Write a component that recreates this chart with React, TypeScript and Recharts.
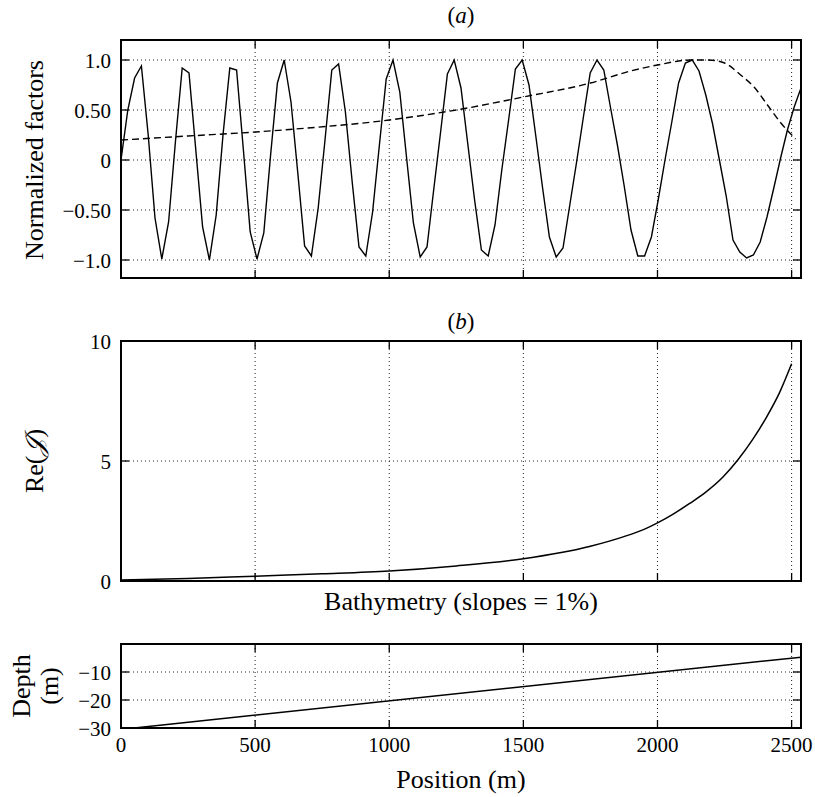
import { CartesianGrid, Line, LineChart, ReferenceArea, XAxis, YAxis } from "recharts"

// panel (a): solid oscillation sampled on a regular grid, dashed envelope
const gridStep = 25.35
const factorSolid = [
  0.0, 0.5, 0.82, 0.94, 0.25, -0.58, -0.99, -0.62, 0.18, 0.92,
  0.87, 0.1, -0.67, -1.0, -0.55, 0.25, 0.92, 0.9, 0.1, -0.72,
  -0.99, -0.73, 0.05, 0.77, 1.0, 0.58, -0.13, -0.86, -0.96, -0.48,
  0.2, 0.9, 0.96, 0.48, -0.22, -0.87, -0.96, -0.52, 0.15, 0.81,
  1.0, 0.68, 0.02, -0.63, -0.97, -0.87, -0.29, 0.28, 0.86, 1.0,
  0.72, 0.16, -0.4, -0.9, -0.96, -0.65, -0.1, 0.4, 0.91, 1.0,
  0.75, 0.24, -0.28, -0.77, -0.97, -0.88, -0.45, -0.02, 0.43, 0.87,
  1.0, 0.9, 0.52, 0.15, -0.26, -0.7, -0.96, -0.96, -0.77, -0.4,
  0.0, 0.38, 0.77, 0.97, 1.0, 0.89, 0.65, 0.36, 0.0, -0.36,
  -0.8, -0.92, -0.98, -0.95, -0.82, -0.57, -0.28, 0.02, 0.3, 0.53,
  0.72,
]
const positionSolid = factorSolid.map((_, i) => i * gridStep)

const positionDashed = [0, 250, 500, 650, 1000, 1250, 1500, 1750, 1900, 2000, 2125, 2190, 2250, 2310, 2360, 2410, 2460, 2515]
const factorDashed = [0.2, 0.24, 0.28, 0.31, 0.4, 0.5, 0.63, 0.77, 0.89, 0.95, 1.0, 1.0, 0.97, 0.85, 0.73, 0.55, 0.37, 0.21]

// panel (b)
const positionRe = [0, 250, 500, 750, 1000, 1250, 1500, 1750, 1875, 1950, 2000, 2060, 2120, 2180, 2245, 2300, 2355, 2405, 2455, 2500]
const reJ = [0.04, 0.1, 0.2, 0.3, 0.42, 0.63, 0.93, 1.45, 1.85, 2.15, 2.42, 2.8, 3.23, 3.7, 4.34, 5.05, 5.9, 6.8, 7.85, 9.05]

// bathymetry
const positionDepth = [0, 2535]
const depth = [-30.5, -4.7]

const xTicks = [0, 500, 1000, 1500, 2000, 2500]
const yTicksA = [-1, -0.5, 0, 0.5, 1]
const yLabelsA = ["−1.0", "−0.50", "0", "0.50", "1.0"]
const yTicksB = [0, 5, 10]
const yLabelsB = ["0", "5", "10"]
const yTicksC = [-30, -20, -10]
const yLabelsC = ["−30", "−20", "−10"]

const FONT = "Liberation Serif, serif"
const PLOT_LEFT = 121
const PLOT_RIGHT = 801
const X_MAX = 2535
const TICK_LEN = 8

const solidData = positionSolid.map((x, i) => ({ x, y: factorSolid[i] }))
const dashedData = positionDashed.map((x, i) => ({ x, y: factorDashed[i] }))
const reData = positionRe.map((x, i) => ({ x, y: reJ[i] }))
const depthData = positionDepth.map((x, i) => ({ x, y: depth[i] }))

function xTick(top: number, bottom: number, showLabel: boolean) {
  return (props: any) => {
    const { x, y, payload } = props
    return (
      <g>
        <line x1={x} x2={x} y1={bottom} y2={bottom - TICK_LEN} stroke="#000" strokeWidth={1.3} />
        <line x1={x} x2={x} y1={top} y2={top + TICK_LEN} stroke="#000" strokeWidth={1.3} />
        {showLabel && (
          <text x={x} y={y} dy="0.71em" textAnchor="middle" style={{ fontFamily: FONT, fontSize: 21 }} fill="#000">
            {payload.value}
          </text>
        )}
      </g>
    )
  }
}

function yTick(ticks: number[], labels: string[]) {
  return (props: any) => {
    const { x, y, payload } = props
    const label = labels[ticks.indexOf(payload.value)]
    return (
      <g>
        <line x1={PLOT_LEFT} x2={PLOT_LEFT + TICK_LEN} y1={y} y2={y} stroke="#000" strokeWidth={1.3} />
        <line x1={PLOT_RIGHT} x2={PLOT_RIGHT - TICK_LEN} y1={y} y2={y} stroke="#000" strokeWidth={1.3} />
        <text x={x} y={y} dy="0.36em" textAnchor="end" style={{ fontFamily: FONT, fontSize: 21 }} fill="#000">
          {label}
        </text>
      </g>
    )
  }
}

interface PanelProps {
  height: number;
  plotTop: number;
  plotBottom: number;
  yDomain: [number, number];
  yTicks: number[];
  yLabels: string[];
  showXLabels: boolean;
  children: React.ReactNode;
}

function Panel({ height, plotTop, plotBottom, yDomain, yTicks, yLabels, showXLabels, children }: PanelProps) {
  const xAxisHeight = 10
  return (
    <LineChart
      width={815}
      height={height}
      margin={{ top: plotTop, right: 815 - PLOT_RIGHT, bottom: height - plotBottom - xAxisHeight, left: PLOT_LEFT - 60 }}
    >
      <CartesianGrid stroke="#222" strokeWidth={1} strokeDasharray="1 3" />
      <XAxis
        type="number"
        dataKey="x"
        domain={[0, X_MAX]}
        ticks={xTicks}
        interval={0}
        height={xAxisHeight}
        axisLine={false}
        tickLine={false}
        tickSize={0}
        tickMargin={9}
        tick={xTick(plotTop, plotBottom, showXLabels)}
        allowDataOverflow
      />
      <YAxis
        type="number"
        dataKey="y"
        domain={yDomain}
        ticks={yTicks}
        interval={0}
        width={60}
        axisLine={false}
        tickLine={false}
        tickSize={0}
        tickMargin={10}
        tick={yTick(yTicks, yLabels)}
        allowDataOverflow
      />
      {children}
      <ReferenceArea x1={0} x2={X_MAX} y1={yDomain[0]} y2={yDomain[1]} fill="none" stroke="#000" strokeWidth={2} />
    </LineChart>
  )
}

const labelStyle = { fontFamily: FONT, fontSize: 26 }

export default function App() {
  return (
    <div style={{ position: "absolute", left: 0, top: 0, width: 815, height: 797, background: "#fff" }}>
      <div style={{ position: "absolute", left: 0, top: 0 }}>
        <Panel height={300} plotTop={40} plotBottom={278} yDomain={[-1.18, 1.2]} yTicks={yTicksA} yLabels={yLabelsA} showXLabels={false}>
          <Line data={solidData} dataKey="y" type="linear" stroke="#000" strokeWidth={1.4} dot={false} isAnimationActive={false} />
          <Line data={dashedData} dataKey="y" type="monotone" stroke="#000" strokeWidth={1.4} strokeDasharray="7 4" dot={false} isAnimationActive={false} />
        </Panel>
      </div>
      <div style={{ position: "absolute", left: 0, top: 300 }}>
        <Panel height={300} plotTop={41} plotBottom={281} yDomain={[0, 10]} yTicks={yTicksB} yLabels={yLabelsB} showXLabels={false}>
          <Line data={reData} dataKey="y" type="monotone" stroke="#000" strokeWidth={1.5} dot={false} isAnimationActive={false} />
        </Panel>
      </div>
      <div style={{ position: "absolute", left: 0, top: 600 }}>
        <Panel height={197} plotTop={44} plotBottom={128} yDomain={[-30, 0]} yTicks={yTicksC} yLabels={yLabelsC} showXLabels={true}>
          <Line data={depthData} dataKey="y" type="linear" stroke="#000" strokeWidth={1.5} dot={false} isAnimationActive={false} />
        </Panel>
      </div>
      <svg width={815} height={797} style={{ position: "absolute", left: 0, top: 0, pointerEvents: "none" }} fill="#000">
        <text x={461} y={23} textAnchor="middle" style={{ fontFamily: FONT, fontSize: 23 }}>
          (<tspan fontStyle="italic">a</tspan>)
        </text>
        <text x={461} y={329} textAnchor="middle" style={{ fontFamily: FONT, fontSize: 23 }}>
          (<tspan fontStyle="italic">b</tspan>)
        </text>
        <text x={461} y={610} textAnchor="middle" style={labelStyle}>Bathymetry (slopes = 1%)</text>
        <text x={461} y={788} textAnchor="middle" style={labelStyle}>Position (m)</text>
        <text x={43} y={160} textAnchor="middle" style={labelStyle} transform="rotate(-90 43 160)">Normalized factors</text>
        <text x={43} y={461} textAnchor="middle" style={labelStyle} transform="rotate(-90 43 461)">
          Re(<tspan fontStyle="italic">𝒥</tspan>)
        </text>
        <text x={30} y={686} textAnchor="middle" style={labelStyle} transform="rotate(-90 30 686)">Depth</text>
        <text x={58} y={686} textAnchor="middle" style={labelStyle} transform="rotate(-90 58 686)">(m)</text>
      </svg>
    </div>
  )
}
